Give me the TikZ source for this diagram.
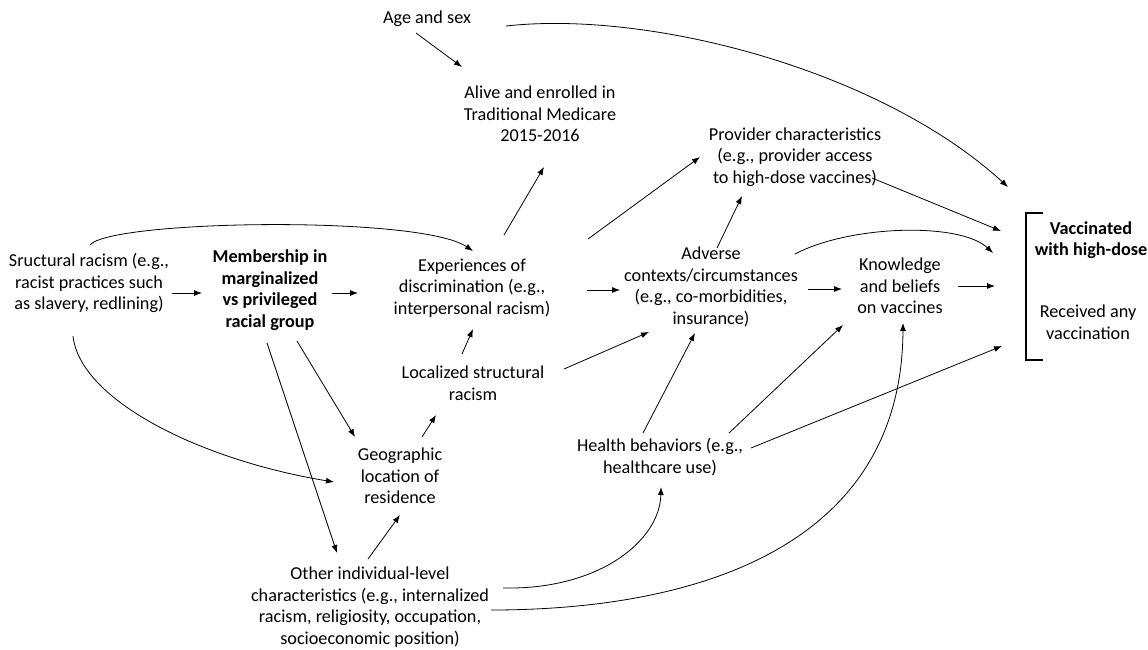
\documentclass[tikz,border=0pt]{standalone}
\usepackage{fontspec}
\setmainfont{Carlito}
\usetikzlibrary{arrows.meta,calc}
\begin{document}
\begin{tikzpicture}[x=1pt,y=-1pt,
  lab/.style={align=center,inner sep=0pt,font=\fontsize{18.2}{21.5}\selectfont},
  blab/.style={lab,font=\fontsize{18.2}{21.5}\selectfont\bfseries},
  arr/.style={-{Latex[length=8pt,width=6pt]},line width=0.8pt},
]
\useasboundingbox (0,0) rectangle (1148,649);
% nodes
\node[lab] (age) at (427,19) {Age and sex};
\node[lab] (alive) at (540,114) {Alive and enrolled in\\Traditional Medicare\\2015-2016};
\node[lab] (prov) at (795,157) {Provider characteristics\\(e.g., provider access\\to high-dose vaccines)};
\node[lab] (struct) at (89,283) {Sructural racism (e.g.,\\racist practices such\\as slavery, redlining)};
\node[blab] (memb) at (270,290) {Membership in\\marginalized\\vs privileged\\racial group};
\node[lab] (exper) at (472,288) {Experiences of\\discrimination (e.g.,\\interpersonal racism)};
\node[lab] (adverse) at (711,287) {Adverse\\contexts/circumstances\\(e.g., co-morbidities,\\insurance)};
\node[lab] (know) at (900,286) {Knowledge\\and beliefs\\on vaccines};
\node[lab] (local) at (473,383) {Localized structural\\racism};
\node[lab] (geo) at (400,476) {Geographic\\location of\\residence};
\node[lab] (health) at (660,457) {Health behaviors (e.g.,\\healthcare use)};
\node[lab] (other) at (370,607) {Other individual-level\\characteristics (e.g., internalized\\racism, religiosity, occupation,\\socioeconomic position)};
\node[blab] (vacc) at (1091,240) {Vaccinated\\with high-dose};
\node[lab] (recv) at (1088,322) {Received any\\vaccination};
% bracket
\draw[line width=1.6pt] ($(vacc)+(-48,-27)$) -- ($(vacc)+(-65,-27)$) -- ($(vacc)+(-65,120)$) -- ($(vacc)+(-48,120)$);
% connectors
\draw[arr] ($(age)+(-11,14)$) -- ($(alive)+(-78,-47)$);
\draw[arr] ($(age)+(79,7)$) .. controls (650,10) and (880,70) .. ($(vacc)+(-83,-53)$);
\draw[arr] ($(exper)+(32,-53)$) -- ($(alive)+(4,53)$);
\draw[arr] ($(exper)+(116,-49)$) -- ($(prov)+(-95,0)$);
\draw[arr] ($(prov)+(77,21)$) -- ($(vacc)+(-90,-9)$);
\draw[arr] ($(adverse)+(6,-39)$) -- ($(prov)+(-53,39)$);
\draw[arr] ($(adverse)+(84,-33)$) .. controls (850,225) and (960,222) .. ($(vacc)+(-98,13)$);
\draw[arr] ($(know)+(58,0)$) -- ($(vacc)+(-96,46)$);
\draw[arr] ($(health)+(91,-9)$) -- ($(recv)+(-86,24)$);
\draw[arr] ($(struct)+(83,10)$) -- ($(memb)+(-68,3)$);
\draw[arr] ($(memb)+(62,3)$) -- ($(exper)+(-114,5)$);
\draw[arr] ($(struct)+(1,-38)$) .. controls (110,220) and (420,215) .. ($(exper)+(1,-37)$);
\draw[arr] ($(exper)+(115,2)$) -- ($(adverse)+(-91,3)$);
\draw[arr] ($(adverse)+(97,2)$) -- ($(know)+(-58,3)$);
\draw[arr] ($(local)+(91,-14)$) -- ($(adverse)+(-62,45)$);
\draw[arr] ($(health)+(-17,-24)$) -- ($(adverse)+(-16,46)$);
\draw[arr] ($(health)+(69,-24)$) -- ($(know)+(-57,39)$);
\draw[arr] ($(other)+(121,3)$) .. controls (700,610) and (902,545) .. ($(know)+(3,37)$);
\draw[arr] ($(other)+(133,-19)$) .. controls (600,590) and (660,540) .. ($(health)+(1,30)$);
\draw[arr] ($(local)+(-11,-29)$) -- ($(exper)+(1,41)$);
\draw[arr] ($(geo)+(22,-39)$) -- ($(local)+(-37,32)$);
\draw[arr] ($(memb)+(27,51)$) -- ($(geo)+(-45,-39)$);
\draw[arr] ($(memb)+(-3,53)$) -- ($(other)+(-33,-54)$);
\draw[arr] ($(struct)+(-16,53)$) .. controls (80,400) and (200,460) .. ($(geo)+(-66,6)$);
\draw[arr] ($(other)+(-2,-48)$) -- ($(geo)+(0,39)$);
\end{tikzpicture}
\end{document}
